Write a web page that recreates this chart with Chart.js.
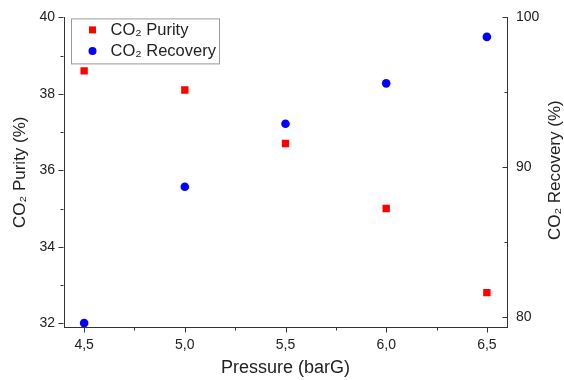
<!DOCTYPE html>
<html><head><meta charset="utf-8">
<script src="https://cdn.jsdelivr.net/npm/chart.js@4.4.1/dist/chart.umd.min.js"></script>
<style>html,body{margin:0;padding:0;background:#fff;}#wrap{width:564px;height:380px;position:relative;}</style>
</head><body><div id="wrap"><canvas id="c" width="564" height="380"></canvas></div>
<script>
const pressure = [4.5, 5.0, 5.5, 6.0, 6.5];
const purity = [38.6, 38.1, 36.7, 35.0, 32.8];
const recovery = [79.6, 88.7, 92.9, 95.6, 98.7];
const xMajor = [4.5, 5.0, 5.5, 6.0, 6.5];
const xMinor = [4.75, 5.25, 5.75, 6.25];
const yMajor = [32, 34, 36, 38, 40];
const yMinor = [33, 35, 37, 39];
const y1Major = [80, 90, 100];
const y1Minor = [85, 95];
const seriesNames = ['CO₂ Purity', 'CO₂ Recovery'];
const axisTitles = { x: 'Pressure (barG)', y: 'CO₂ Purity (%)', y1: 'CO₂ Recovery (%)' };

const FONT = "'Liberation Sans', Arial, sans-serif";
const AXIS = '#333';
const TEXT = '#222';
const RED = '#ff0000';
const BLUE = '#0000ff';

const tickPlugin = {
  id: 'customTicks',
  afterDraw(chart) {
    const ctx = chart.ctx;
    const { x, y, y1 } = chart.scales;
    ctx.save();
    ctx.strokeStyle = AXIS;
    ctx.lineWidth = 1;
    const seg = (a, b, c, d) => { ctx.beginPath(); ctx.moveTo(a, b); ctx.lineTo(c, d); ctx.stroke(); };
    const bx = Math.round(x.top) + 0.5;
    xMajor.forEach(v => { const p = Math.round(x.getPixelForValue(v)) + 0.5; seg(p, bx, p, bx + 5); });
    xMinor.forEach(v => { const p = Math.round(x.getPixelForValue(v)) + 0.5; seg(p, bx, p, bx + 3); });
    const lx = Math.round(y.right) - 0.5;
    yMajor.forEach(v => { const p = Math.round(y.getPixelForValue(v)) + 0.5; seg(lx - 5, p, lx, p); });
    yMinor.forEach(v => { const p = Math.round(y.getPixelForValue(v)) + 0.5; seg(lx - 3, p, lx, p); });
    const rx = Math.round(y1.left) + 0.5;
    y1Major.forEach(v => { const p = Math.round(y1.getPixelForValue(v)) + 0.5; seg(rx - 5, p, rx, p); });
    y1Minor.forEach(v => { const p = Math.round(y1.getPixelForValue(v)) + 0.5; seg(rx - 3, p, rx, p); });

    // right axis title, reading bottom-to-top like the reference
    const ca = chart.chartArea;
    ctx.translate(y1.right - 9, (ca.top + ca.bottom) / 2 - 2);
    ctx.rotate(-Math.PI / 2);
    ctx.font = '17px ' + FONT;
    ctx.fillStyle = TEXT;
    ctx.textAlign = 'center';
    ctx.textBaseline = 'middle';
    ctx.fillText(axisTitles.y1, 0, 0);
    ctx.restore();
  }
};

const legendPlugin = {
  id: 'boxLegend',
  afterDraw(chart) {
    const ctx = chart.ctx;
    const ca = chart.chartArea;
    ctx.save();
    const bx = ca.left + 7.5, by = ca.top + 1.5, bw = 148, bh = 45;
    ctx.strokeStyle = '#9a9a9a';
    ctx.lineWidth = 1;
    ctx.strokeRect(bx, by, bw, bh);
    ctx.font = '16.5px ' + FONT;
    ctx.textBaseline = 'middle';
    const rows = [by + 11, by + 32];
    chart.data.datasets.forEach((ds, i) => {
      const cy = rows[i];
      const cx = bx + 21;
      ctx.fillStyle = ds.backgroundColor;
      if (ds.pointStyle === 'rect') {
        ctx.fillRect(cx - 3.5, cy - 3.5, 7, 7);
      } else {
        ctx.beginPath(); ctx.arc(cx, cy, 4, 0, Math.PI * 2); ctx.fill();
      }
      ctx.fillStyle = TEXT;
      ctx.fillText(seriesNames[i], bx + 39, cy + 1);
    });
    ctx.restore();
  }
};

new Chart(document.getElementById('c'), {
  type: 'scatter',
  data: {
    datasets: [
      {
        label: seriesNames[0],
        data: pressure.map((p, i) => ({ x: p, y: purity[i] })),
        yAxisID: 'y',
        pointStyle: 'rect',
        pointRadius: 5.2,
        pointHoverRadius: 5.2,
        backgroundColor: RED,
        borderColor: RED,
        borderWidth: 0
      },
      {
        label: seriesNames[1],
        data: pressure.map((p, i) => ({ x: p, y: recovery[i] })),
        yAxisID: 'y1',
        pointStyle: 'circle',
        pointRadius: 4.3,
        pointHoverRadius: 4.3,
        backgroundColor: BLUE,
        borderColor: BLUE,
        borderWidth: 0
      }
    ]
  },
  options: {
    responsive: false,
    animation: false,
    events: [],
    layout: { padding: { top: 15, left: 0, right: 0, bottom: 0 } },
    plugins: { legend: { display: false }, tooltip: { enabled: false } },
    scales: {
      x: {
        type: 'linear', position: 'bottom', min: 4.4, max: 6.6,
        grid: { display: false, drawTicks: false },
        border: { display: true, color: AXIS, width: 1 },
        afterBuildTicks: s => { s.ticks = xMajor.map(v => ({ value: v })); },
        afterFit: s => { s.height = 53; },
        ticks: { font: { family: FONT, size: 14 }, color: TEXT, padding: 10, maxRotation: 0,
          callback: v => Number(v).toFixed(1).replace('.', ',') },
        title: { display: true, text: axisTitles.x, color: TEXT, font: { family: FONT, size: 18 }, padding: { top: 0, bottom: 1 } }
      },
      y: {
        type: 'linear', position: 'left', min: 31.9, max: 40,
        grid: { display: false, drawTicks: false },
        border: { display: true, color: AXIS, width: 1 },
        afterBuildTicks: s => { s.ticks = yMajor.map(v => ({ value: v })); },
        afterFit: s => { s.width = 64; },
        ticks: { font: { family: FONT, size: 14 }, color: TEXT, padding: 9, callback: v => String(v) },
        title: { display: true, text: axisTitles.y, color: TEXT, font: { family: FONT, size: 17 }, padding: { top: 10, bottom: 0 } }
      },
      y1: {
        type: 'linear', position: 'right', min: 79.34, max: 100,
        grid: { display: false, drawTicks: false },
        border: { display: true, color: AXIS, width: 1 },
        afterBuildTicks: s => { s.ticks = y1Major.map(v => ({ value: v })); },
        afterFit: s => { s.width = 57; },
        ticks: { font: { family: FONT, size: 14 }, color: TEXT, padding: 9, callback: v => String(v) },
        title: { display: false, text: axisTitles.y1 }
      }
    }
  },
  plugins: [tickPlugin, legendPlugin]
});
</script>
</body></html>
